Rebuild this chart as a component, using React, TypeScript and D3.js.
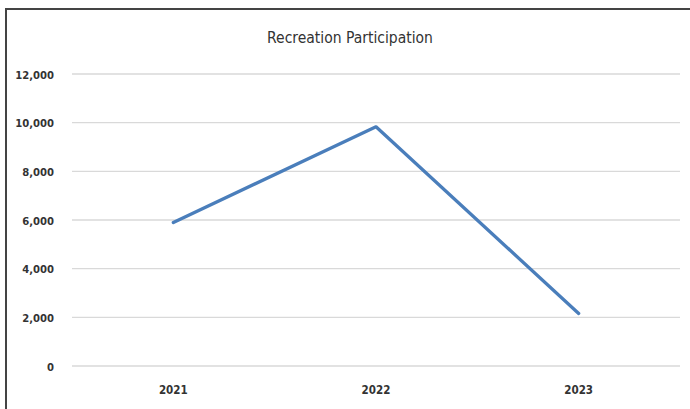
import React from "react";
import * as d3 from "d3";

const categories = ["2021", "2022", "2023"];
const values = [5900, 9830, 2160];
const yTicks = [0, 2000, 4000, 6000, 8000, 10000, 12000];
const title = "Recreation Participation";

export default function App() {
  const W = 690, H = 409;
  const left = 72, right = 680, top = 74, bottom = 366;
  const x = d3.scalePoint<string>().domain(categories).range([left, right]).padding(0.5);
  const y = d3.scaleLinear().domain([0, 12000]).range([bottom, top]);
  const line = d3.line<number>().x((_, i) => x(categories[i])!).y((d) => y(d));
  const fmt = d3.format(",");
  const font = "'DejaVu Sans Condensed', 'Open Sans', sans-serif";
  return (
    <svg width={W} height={H} style={{ position: "absolute", left: 0, top: 0, background: "#fff" }}>
      <line x1={6} x2={690} y1={9} y2={9} stroke="#444" strokeWidth={2} />
      <line x1={6} x2={6} y1={8} y2={409} stroke="#444" strokeWidth={2} />
      <text x={350} y={43} textAnchor="middle" fontFamily={font} fontSize={15.5} fill="#333">{title}</text>
      {yTicks.map((t) => (
        <g key={t}>
          <line x1={left} x2={right} y1={y(t)} y2={y(t)} stroke="#d9d9d9" strokeWidth={1.3} />
          <text x={54} y={y(t) + 4.5} textAnchor="end" fontFamily={font} fontSize={11.2} fontWeight="bold" fill="#333">{fmt(t)}</text>
        </g>
      ))}
      {categories.map((c) => (
        <text key={c} x={x(c)} y={394} textAnchor="middle" fontFamily={font} fontSize={11.5} fontWeight="bold" fill="#333">{c}</text>
      ))}
      <path d={line(values)!} fill="none" stroke="#4a7ebb" strokeWidth={3.3} strokeLinejoin="round" strokeLinecap="round" />
    </svg>
  );
}
